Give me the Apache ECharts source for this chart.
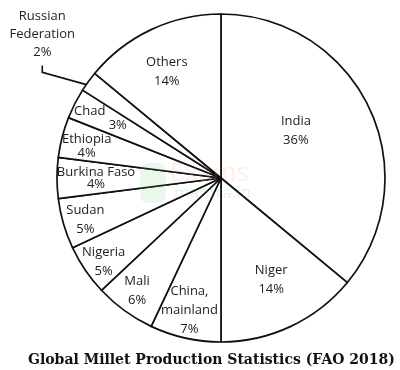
<!DOCTYPE html>
<html><head><meta charset="utf-8">
<script src="https://cdn.jsdelivr.net/npm/echarts@6/dist/echarts.min.js"></script>
<style>html,body{margin:0;padding:0;background:#fff}#c{width:400px;height:370px}</style>
</head><body><div id="c"></div>
<script>
// ---- data ----
const categories = ['India', 'Niger', 'China,\nmainland', 'Mali', 'Nigeria', 'Sudan', 'Burkina Faso', 'Ethiopia', 'Chad', 'Russian\nFederation', 'Others'];
const shares = [36, 14, 7, 6, 5, 5, 4, 4, 3, 2, 14];
const titleText = 'Global Millet Production Statistics (FAO 2018)';

// ---- label styling (nudges relative to library's inside position) ----
const labelShift = [[-2, -11], [14, 25], [-13, 49], [-34, 44], [-47, 36], [-54, 18], [-40, 0], [-52, -11], [-44, -21], null, [-18, -29]];
const labelLineHeight = [19, 19, 19, 19, 19, 19, 12, 14, 14, 18, 19];
const OUTSIDE_INDEX = 9;
const PIE_CENTER = [221, 178];
const PIE_RADIUS = 164;

const chart = echarts.init(document.getElementById('c'), null, {renderer: 'canvas'});
const total = shares.reduce((a, b) => a + b, 0);

const seriesData = categories.map((name, i) => {
  const item = {
    name: name,
    value: shares[i],
    label: {lineHeight: labelLineHeight[i]}
  };
  if (name === 'Chad') {
    item.label = {
      formatter: '{a|{b}}\n{p|{c}%}',
      rich: {
        a: {padding: [0, 23, 0, 0], lineHeight: 14, fontFamily: 'Open Sans', fontSize: 13, color: '#222'},
        p: {padding: [0, 0, 0, 33], lineHeight: 14, fontFamily: 'Open Sans', fontSize: 13, color: '#222'}
      }
    };
  }
  if (i === OUTSIDE_INDEX) {
    item.label = {position: 'outside', lineHeight: labelLineHeight[i], align: 'center'};
    item.labelLine = {show: true, length: 10, length2: 10, lineStyle: {color: '#111', width: 1.6}};
  }
  return item;
});

chart.setOption({
  backgroundColor: '#fff',
  animation: false,
  title: {
    text: titleText,
    left: 28,
    top: 353,
    padding: 0,
    textStyle: {fontFamily: 'DejaVu Serif', fontWeight: 'bold', fontSize: 14, color: '#111'}
  },
  series: [{
    type: 'pie',
    center: PIE_CENTER,
    radius: PIE_RADIUS,
    startAngle: 90,
    clockwise: true,
    avoidLabelOverlap: false,
    silent: true,
    itemStyle: {color: '#fff', borderColor: '#111', borderWidth: 1.7},
    label: {
      show: true,
      position: 'inside',
      formatter: '{b}\n{c}%',
      fontFamily: 'Open Sans',
      fontSize: 13,
      color: '#222',
      align: 'center'
    },
    labelLine: {show: false},
    labelLayout: function (p) {
      const i = p.dataIndex;
      if (i === OUTSIDE_INDEX) {
        const before = shares.slice(0, i).reduce((a, b) => a + b, 0);
        const mid = (90 - (before + shares[i] / 2) / total * 360) * Math.PI / 180;
        const sx = PIE_CENTER[0] + 0.94 * PIE_RADIUS * Math.cos(mid);
        const sy = PIE_CENTER[1] - 0.94 * PIE_RADIUS * Math.sin(mid);
        const bx = sx - 54, by = sy - 15;
        return {
          x: bx, y: by - 38, align: 'center', verticalAlign: 'middle',
          labelLinePoints: [[sx, sy], [bx, by], [bx, by - 7]]
        };
      }
      const s = labelShift[i];
      return {dx: s[0], dy: s[1]};
    },
    data: seriesData
  }],
  graphic: [
    {type: 'rect', z: 100, shape: {x: 140, y: 163, width: 26, height: 40, r: 8}, style: {fill: 'rgba(110,190,110,0.13)'}},
    {type: 'text', z: 100, x: 170, y: 161, style: {text: 'Exams', font: '26px "Open Sans"', fill: 'rgba(240,150,100,0.16)'}},
    {type: 'text', z: 100, x: 174, y: 185, style: {text: 'mantra.in', font: '17px "Open Sans"', fill: 'rgba(110,190,110,0.18)'}}
  ]
});
</script>
</body></html>
